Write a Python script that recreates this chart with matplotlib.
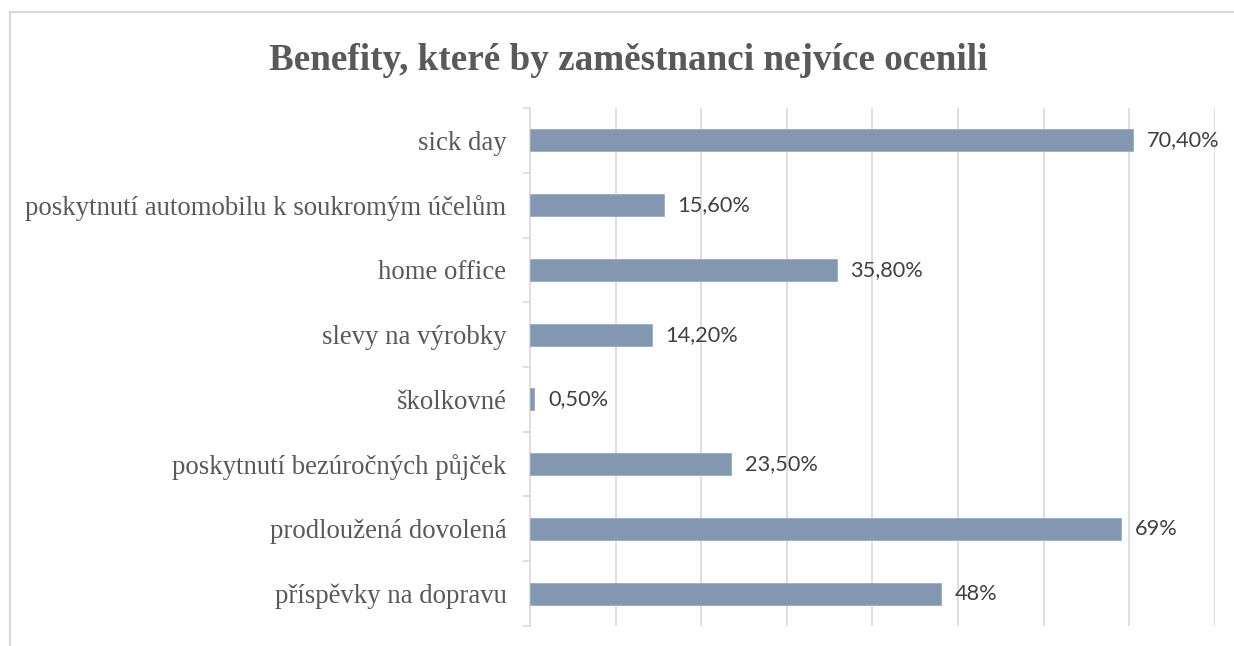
import matplotlib.pyplot as plt
from matplotlib.patches import Rectangle

categories = ["sick day",
              "poskytnutí automobilu k soukromým účelům",
              "home office",
              "slevy na výrobky",
              "školkovné",
              "poskytnutí bezúročných půjček",
              "prodloužená dovolená",
              "příspěvky na dopravu"]
values = [70.4, 15.6, 35.8, 14.2, 0.5, 23.5, 69, 48]
value_labels = ["70,40%", "15,60%", "35,80%", "14,20%", "0,50%", "23,50%", "69%", "48%"]
title = "Benefity, které by zaměstnanci nejvíce ocenili"

grid_col = "#D9D9D9"

fig = plt.figure(figsize=(12.34, 6.46), dpi=100)
ax = fig.add_axes([0.4295, 0.031, 0.5551, 0.8017])

pos = list(range(len(categories)))
ax.barh(pos, values, height=0.34, color="#8497B0", edgecolor="#9AABC0", linewidth=0.6, zorder=3)
ax.set_ylim(len(categories) - 0.5, -0.5)
ax.set_xlim(0, 80)

# value labels
for p, v, lab in zip(pos, values, value_labels):
    ax.annotate(lab, (v, p), xytext=(10, 0), textcoords="offset points",
                va="center", ha="left", fontsize=15.7, family="Lato", color="#404040")

ax.set_yticks(pos)
ax.set_yticklabels(categories, family="Liberation Serif", fontsize=19.3, color="#595959")
ax.tick_params(axis="y", which="major", length=0, pad=17)
ax.set_yticks([p - 0.5 for p in pos] + [len(categories) - 0.5], minor=True)
ax.tick_params(axis="y", which="minor", length=5, width=1.2, color=grid_col)

ax.set_xticks(range(10, 81, 10))
ax.tick_params(axis="x", length=0, labelbottom=False)
ax.xaxis.grid(True, color=grid_col, linewidth=1.2, zorder=0)

for s in ["top", "right", "bottom"]:
    ax.spines[s].set_visible(False)
ax.spines["left"].set_color(grid_col)
ax.spines["left"].set_linewidth(1.2)

fig.text(0.509, 1 - 61 / 646, title, ha="center", va="center",
         family="Liberation Serif", fontweight="bold", fontsize=26.7, color="#595959")

# chart frame (top and left edges visible)
fig.patches.append(Rectangle((10 / 1234, -0.05), 1.1, 1 - 12 / 646 + 0.05,
                             transform=fig.transFigure, fill=False,
                             edgecolor="#D9D9D9", linewidth=1.5))

fig.savefig("out.png", dpi=100)
